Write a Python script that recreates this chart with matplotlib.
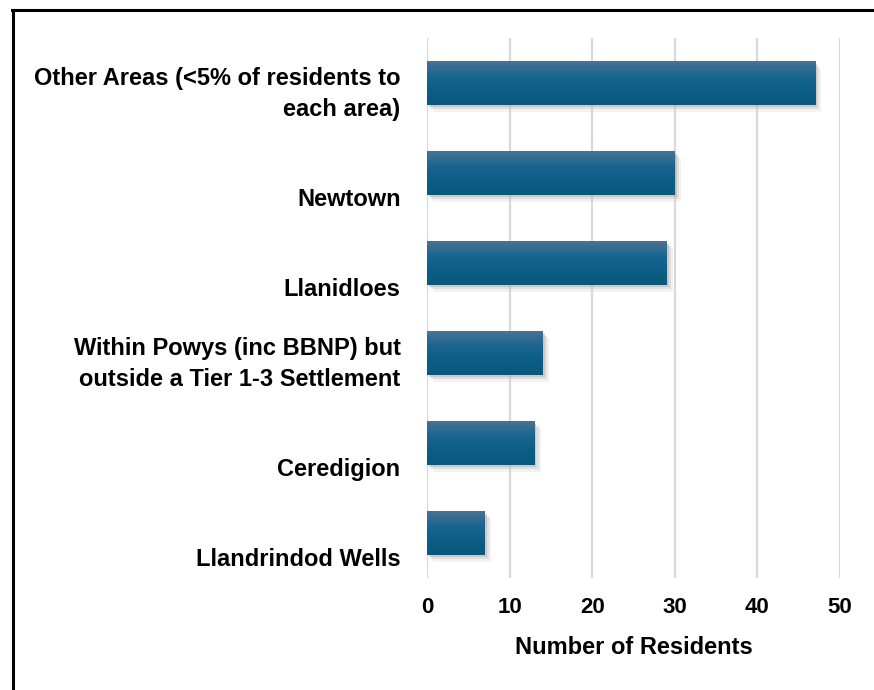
import matplotlib
matplotlib.use("Agg")
from matplotlib import pyplot as plt
from matplotlib.lines import Line2D
import matplotlib.patheffects as pe
import numpy as np

categories = ["Other Areas (<5% of residents to\neach area)",
              "Newtown",
              "Llanidloes",
              "Within Powys (inc BBNP) but\noutside a Tier 1-3 Settlement",
              "Ceredigion",
              "Llandrindod Wells"]
residents = [47, 30, 29, 14, 13, 7]
xticks = [0, 10, 20, 30, 40, 50]

plt.rcParams['font.family'] = ['Liberation Sans', 'DejaVu Sans']

fig = plt.figure(figsize=(8.74, 6.9), dpi=100)
ax = fig.add_axes([427/874, 1 - 578/690, (840 - 427)/874, (578 - 38)/690])

pos = np.arange(len(categories))
shadow = [pe.SimplePatchShadow(offset=(1.5, -2), shadow_rgbFace='#888888', alpha=0.35),
          pe.SimplePatchShadow(offset=(3, -3.5), shadow_rgbFace='#aaaaaa', alpha=0.3),
          pe.SimplePatchShadow(offset=(4.5, -5), shadow_rgbFace='#cccccc', alpha=0.25),
          pe.Normal()]
bars = ax.barh(pos, residents, height=0.48, color='#0b5a80', zorder=2)

# vertical gradient, lighter on top
grad = np.linspace(0, 1, 100).reshape(-1, 1)
cmap = matplotlib.colors.LinearSegmentedColormap.from_list(
    "g", ["#4a7393", "#1a6590", "#0c5e86", "#0a577c"])
for b in bars:
    b.set_path_effects(shadow)
    x0, y0 = b.get_x(), b.get_y()
    x1, y1 = x0 + b.get_width(), y0 + b.get_height()
    im = ax.imshow(grad, cmap=cmap, aspect='auto', extent=(x0, x1, y1, y0),
                   origin='upper', zorder=3, interpolation='bilinear')
    im.set_clip_path(b)

ax.set_xlim(0, 50)
ax.set_ylim(len(categories) - 0.5, -0.5)
ax.set_xticks(xticks)
ax.set_xticklabels([str(t) for t in xticks], fontsize=16, fontweight='bold')
ax.grid(axis='x', color='#d9d9d9', linewidth=1.6, zorder=0)
ax.set_axisbelow(True)
for s in ax.spines.values():
    s.set_visible(False)
ax.tick_params(axis='x', length=0, pad=14)
ax.tick_params(axis='y', length=0, pad=19)

# category labels sit near the bottom of each slot
ax.set_yticks(pos + 0.42)
ax.set_yticklabels(categories, fontsize=17, fontweight='bold', va='bottom',
                   ha='right', multialignment='right', linespacing=1.45)
ax.set_xlabel("Number of Residents", fontsize=17, fontweight='bold', labelpad=13)

# border (left and top)
fig.add_artist(Line2D([13/874, 13/874], [0, 1 - 10/690], transform=fig.transFigure,
                      color='black', linewidth=2.2))
fig.add_artist(Line2D([12/874, 1], [1 - 10/690, 1 - 10/690], transform=fig.transFigure,
                      color='black', linewidth=2.2))

fig.savefig("out.png", dpi=100)
